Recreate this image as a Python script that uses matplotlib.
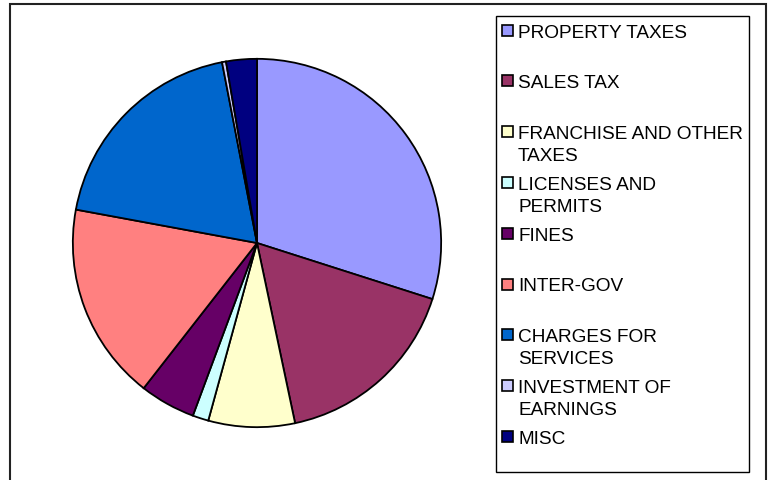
import matplotlib.pyplot as plt
from matplotlib.patches import Rectangle

labels = ['PROPERTY TAXES', 'SALES TAX', 'FRANCHISE AND OTHER\nTAXES',
          'LICENSES AND\nPERMITS', 'FINES', 'INTER-GOV', 'CHARGES FOR\nSERVICES',
          'INVESTMENT OF\nEARNINGS', 'MISC']
values = [30.0, 16.8, 7.6, 1.4, 4.9, 17.4, 19.1, 0.35, 2.7]
colors = ['#9999FF', '#993366', '#FFFFCC', '#CCFFFF', '#660066',
          '#FF8080', '#0066CC', '#CCCCFF', '#000080']

W, H = 772, 481
fig = plt.figure(figsize=(W / 100, H / 100), dpi=100)
plt.rcParams['font.family'] = ['Liberation Sans', 'DejaVu Sans']


def fx(x):
    return x / W


def fy(y):
    return 1 - y / H


# outer chart frame (bottom edge runs off the picture)
fig.patches.append(Rectangle((fx(10), fy(500)), fx(766) - fx(10), fy(5) - fy(500),
                             transform=fig.transFigure, fill=False,
                             edgecolor='#222222', linewidth=1.5, clip_on=False))

# pie
cx, cy, r = 257, 244, 186
ax = fig.add_axes([fx(cx - r), fy(cy + r), 2 * r / W, 2 * r / H])
ax.pie(values, colors=colors, startangle=90, counterclock=False, radius=1,
       wedgeprops=dict(edgecolor='black', linewidth=1.3))
ax.set_xlim(-1.01, 1.01)
ax.set_ylim(-1.01, 1.01)
ax.set_aspect('equal')
ax.axis('off')

# legend box
fig.patches.append(Rectangle((fx(496), fy(473)), fx(749) - fx(496), fy(17) - fy(473),
                             transform=fig.transFigure, fill=False,
                             edgecolor='black', linewidth=1.0))

y0, step = 31, 50.8
for i, (lab, col) in enumerate(zip(labels, colors)):
    yc = y0 + i * step
    fig.patches.append(Rectangle((fx(502), fy(yc + 5.5)), 11 / W, 11 / H,
                                 transform=fig.transFigure, facecolor=col,
                                 edgecolor='black', linewidth=1.2))
    for j, line in enumerate(lab.split('\n')):
        fig.text(fx(518), fy(yc + 6.5 + 22 * j), line, fontsize=13.7,
                 va='baseline', ha='left')

fig.savefig('out.png', dpi=100)
